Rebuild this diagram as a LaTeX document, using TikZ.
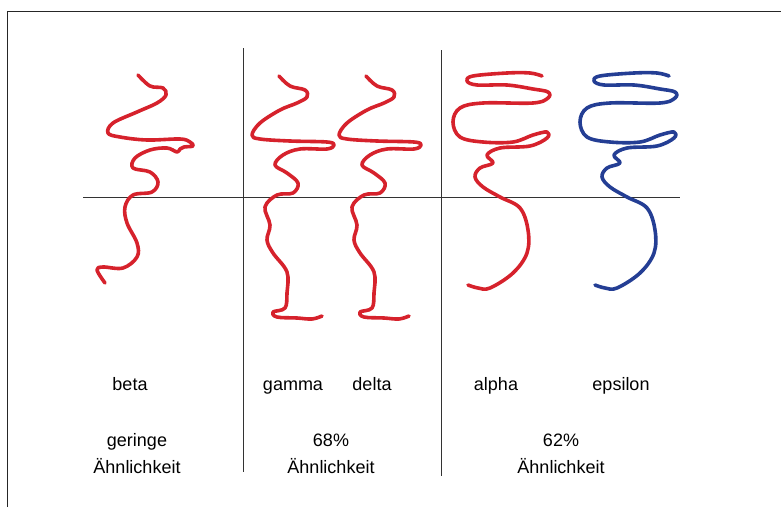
\documentclass[tikz,border=0pt]{standalone}
\usepackage{fontspec}
\setmainfont{Liberation Sans}
\definecolor{chainred}{RGB}{214,34,44}
\definecolor{chainblue}{RGB}{36,62,148}
\tikzset{
  chain/.style={line width=3.6pt,line cap=round,line join=round},
  rule/.style={draw=black!80,line width=1pt},
  txt/.style={font=\fontsize{18}{27}\selectfont,align=center,inner sep=0pt}
}
\begin{document}
\begin{tikzpicture}[x=1pt,y=-1pt]
	\useasboundingbox (0,0) rectangle (781,507);
	% frame, open to the right and below
	\coordinate (fb) at (7.5,507);
	\coordinate (fc) at (7.5,11.5);
	\coordinate (fr) at (781,11.5);
	\draw[draw=black!85,line width=1.3pt] (fb) -- (fc) -- (fr);
	% dividers
	\begin{scope}[every node/.style={coordinate}]
	  \node (v1t) at (243,48) {};
	  \node (v1b) at (243,472) {};
	  \node (v2t) at (441,50) {};
	  \node (v2b) at (441,476) {};
	  \node (hl) at (83,197) {};
	  \node (hr) at (680,197) {};
	\end{scope}
	\begin{scope}[every path/.style={rule}]
	  \path (v1t) edge (v1b);
	  \path (v2t) edge (v2b);
	  \path (hl) edge (hr);
	\end{scope}
	% beta
	\draw[chain,chainred] plot[smooth,tension=0.6] coordinates {
	  (138,75) (150,86) (163,88) (166,95) (157,103) (137,112) (113,123)
	  (108,133) (120,137) (147,140) (180,139) (190,142) (193,146) (184,147)
	  (180,149) (177,152) (167,148) (150,150) (135,158) (133,168) (150,172)
	  (158,182) (152,192) (133,195) (125,207) (127,223) (137,243) (137,257)
	  (123,268) (103,267) (97,270) (105,283)};
	% gamma and delta
	\foreach \dx in {0,87}{
	  \draw[chain,chainred,xshift=\dx] plot[smooth,tension=0.6] coordinates {
	    (279,76) (290,86) (305,90) (307,97) (297,103) (280,110) (260,123)
	    (252,135) (260,139) (290,141) (327,142) (334,145) (327,149) (300,149)
	    (283,155) (275,165) (287,173) (298,183) (293,193) (277,195) (265,207)
	    (270,225) (267,240) (273,253) (287,272) (287,293) (285,308) (273,312)
	    (277,317) (297,318) (312,319) (322,316)};
	}
	% alpha and epsilon
	\foreach \dx/\col in {0/chainred,127/chainblue}{
	  \draw[chain,\col,xshift=\dx] plot[smooth,tension=0.6] coordinates {
	    (542,76) (530,73) (507,73) (473,76) (467,81) (477,85) (507,85)
	    (533,89) (548,92) (548,98) (533,103) (483,103) (460,108) (453,122)
	    (460,137) (483,142) (513,142) (533,135) (547,132) (547,138) (530,146)
	    (500,148) (487,155) (493,163) (480,168) (475,177) (483,187) (500,197)
	    (520,208) (528,230) (527,253) (513,273) (490,288) (478,288) (468,285)};
	}
	% names
	\begin{scope}[every node/.style={txt,anchor=base}]
	  \node (beta) at (130,390) {beta};
	  \node (gamma) at (293,390) {gamma};
	  \node (delta) at (372,390) {delta};
	  \node (alpha) at (496,390) {alpha};
	  \node (epsilon) at (621,390) {epsilon};
	\end{scope}
	% similarity
	\node[txt] (simb) at (137,454) {geringe\\Ähnlichkeit};
	\node[txt] (simgd) at (331,454) {68\%\\Ähnlichkeit};
	\node[txt] (simae) at (561,454) {62\%\\Ähnlichkeit};
\end{tikzpicture}
\end{document}
